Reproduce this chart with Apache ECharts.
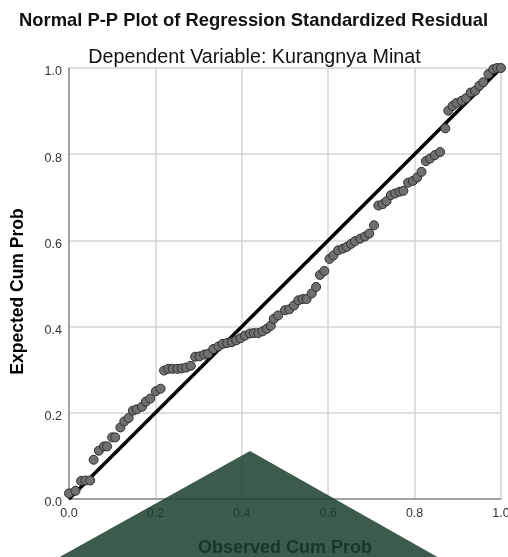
<!DOCTYPE html>
<html>
<head>
<meta charset="utf-8">
<script src="https://cdn.jsdelivr.net/npm/echarts@6/dist/echarts.min.js"></script>
<style>html,body{margin:0;padding:0;background:#fff}#c{width:508px;height:557px}</style>
</head>
<body>
<div id="c"></div>
<script>
const titleText = "Normal P-P Plot of Regression Standardized Residual";
const subtitleText = "Dependent Variable: Kurangnya Minat";
const xAxisName = "Observed Cum Prob";
const yAxisName = "Expected Cum Prob";
const tickValues = [0, 0.2, 0.4, 0.6, 0.8, 1.0];

const observed = [
  0.000, 0.015, 0.028, 0.038, 0.049, 0.057, 0.069, 0.081, 0.088, 0.100,
  0.107, 0.119, 0.128, 0.138, 0.148, 0.157, 0.169, 0.178, 0.188, 0.201,
  0.212, 0.220, 0.230, 0.240, 0.251, 0.261, 0.271, 0.282, 0.292, 0.302,
  0.313, 0.322, 0.334, 0.346, 0.356, 0.366, 0.377, 0.387, 0.397, 0.407,
  0.419, 0.428, 0.438, 0.448, 0.458, 0.467, 0.474, 0.484, 0.500, 0.510,
  0.521, 0.531, 0.541, 0.550, 0.562, 0.572, 0.581, 0.591, 0.603, 0.612,
  0.623, 0.634, 0.643, 0.653, 0.662, 0.674, 0.685, 0.695, 0.706, 0.716,
  0.726, 0.735, 0.745, 0.755, 0.765, 0.774, 0.785, 0.796, 0.806, 0.816,
  0.826, 0.836, 0.847, 0.859, 0.871, 0.878, 0.888, 0.897, 0.909, 0.919,
  0.930, 0.940, 0.950, 0.959, 0.971, 0.982, 0.991, 1.000
];
const expected = [
  0.013, 0.019, 0.042, 0.043, 0.043, 0.091, 0.112, 0.122, 0.122, 0.143,
  0.143, 0.166, 0.180, 0.188, 0.205, 0.208, 0.214, 0.226, 0.233, 0.250,
  0.256, 0.298, 0.302, 0.302, 0.302, 0.303, 0.305, 0.309, 0.330, 0.331,
  0.335, 0.337, 0.348, 0.354, 0.360, 0.362, 0.364, 0.368, 0.373, 0.379,
  0.384, 0.385, 0.385, 0.389, 0.395, 0.402, 0.418, 0.426, 0.438, 0.440,
  0.449, 0.461, 0.464, 0.464, 0.477, 0.492, 0.520, 0.529, 0.557, 0.565,
  0.577, 0.581, 0.585, 0.592, 0.598, 0.604, 0.609, 0.616, 0.635, 0.681,
  0.684, 0.691, 0.705, 0.709, 0.713, 0.715, 0.734, 0.738, 0.746, 0.759,
  0.784, 0.790, 0.798, 0.805, 0.860, 0.901, 0.912, 0.919, 0.924, 0.930,
  0.943, 0.947, 0.959, 0.967, 0.986, 0.997, 1.000, 1.000
];
const refLine = [[0, 0], [1, 1]];

const points = observed.map((x, i) => [x, expected[i]]);
const fmt = v => v.toFixed(1);

const chart = echarts.init(document.getElementById('c'), null, {renderer: 'canvas'});
chart.setOption({
  animation: false,
  backgroundColor: '#ffffff',
  textStyle: {fontFamily: 'Liberation Sans, Arial, sans-serif'},
  title: [
    {text: titleText, left: 248.5, top: 7, textAlign: 'center',
     textStyle: {fontFamily: 'Liberation Sans', fontWeight: 'bold', fontSize: 18.4, color: '#111'}},
    {text: subtitleText, left: 249.5, top: 43, textAlign: 'center',
     textStyle: {fontFamily: 'Liberation Sans', fontWeight: 'normal', fontSize: 19.7, color: '#111'}}
  ],
  grid: {left: 69, right: 7, top: 68, bottom: 58, containLabel: false, outerBoundsMode: 'none'},
  xAxis: {
    type: 'value', min: 0, max: 1, interval: 0.2,
    name: xAxisName, nameLocation: 'middle', nameGap: 40,
    nameTextStyle: {fontFamily: 'Liberation Sans', fontWeight: 'bold', fontSize: 18, color: '#000'},
    axisLine: {show: true, lineStyle: {color: '#8c8c8c', width: 1.5}},
    axisTick: {show: false},
    axisLabel: {formatter: fmt, color: '#333', fontSize: 12.5, margin: 8},
    splitLine: {show: true, lineStyle: {color: '#d4d4d4', width: 1.5}}
  },
  yAxis: {
    type: 'value', min: 0, max: 1, interval: 0.2,
    name: yAxisName, nameLocation: 'middle', nameGap: 42,
    nameTextStyle: {fontFamily: 'Liberation Sans', fontWeight: 'bold', fontSize: 17.5, color: '#000',
                    padding: [0, 16, 0, 0]},
    axisLine: {show: true, lineStyle: {color: '#8c8c8c', width: 1.5}},
    axisTick: {show: false},
    axisLabel: {formatter: fmt, color: '#333', fontSize: 12.5, margin: 7,
                verticalAlign: 'top', lineHeight: 8},
    splitLine: {show: true, lineStyle: {color: '#d4d4d4', width: 1.5}}
  },
  series: [
    {
      type: 'line', data: refLine, showSymbol: false, symbol: 'none',
      lineStyle: {color: '#000', width: 3.5}, z: 3
    },
    {
      type: 'scatter', data: points, symbolSize: 9,
      itemStyle: {color: '#707070', borderColor: '#2e2e2e', borderWidth: 1, opacity: 1}, z: 4
    }
  ],
  graphic: [
    {
      type: 'polygon', z: 100, zlevel: 0,
      shape: {points: [[56, 559], [250, 451], [441, 559]]},
      style: {fill: 'rgba(28,64,46,0.86)'}
    }
  ]
});
</script>
</body>
</html>
